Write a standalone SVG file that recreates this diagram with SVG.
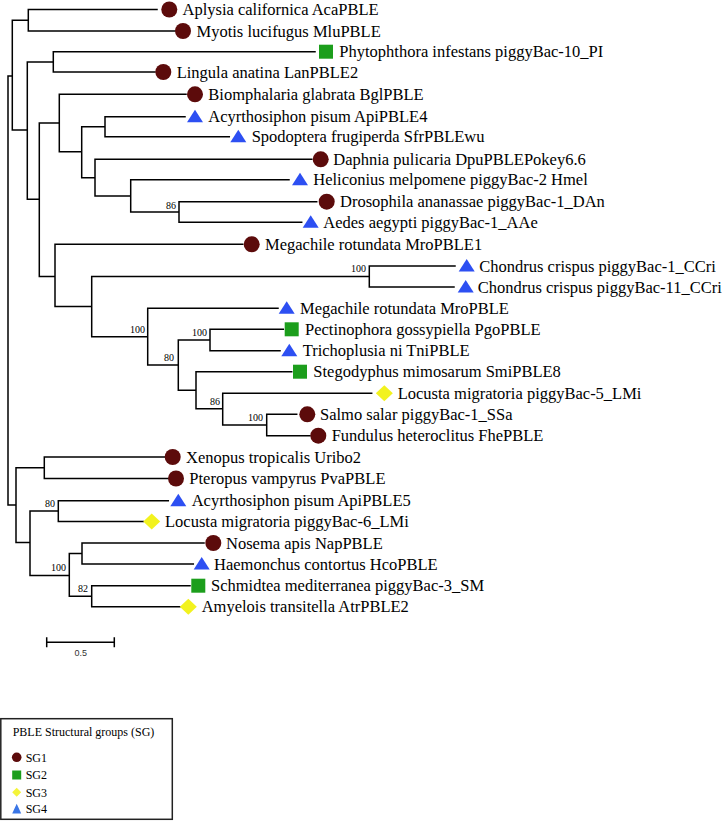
<svg xmlns="http://www.w3.org/2000/svg" width="725" height="824" viewBox="0 0 725 824">
<defs>
<style>
.br{fill:none;stroke:#000;stroke-width:1.5;stroke-linecap:square}
.lbl{font-family:"Liberation Serif","Times New Roman",serif;font-size:16.5px;fill:#000}
.bs{font-family:"Liberation Serif","Times New Roman",serif;font-size:10px;fill:#000;text-anchor:end}
.lg{font-family:"Liberation Serif","Times New Roman",serif;font-size:12px;fill:#000}
.sg1{fill:#5c0b0b}
.sg2{fill:#1c9e1c}
.sg3{fill:#f2f21e}
.sg4{fill:#2d4ff2}
</style>
<circle id="m1" r="8" class="sg1"/>
<rect id="m2" x="-7" y="-7" width="14" height="14" class="sg2"/>
<polygon id="m3" points="0,-8 8.5,0 0,8 -8.5,0" class="sg3"/>
<polygon id="m4" points="0,-7 8,5.5 -8,5.5" class="sg4"/>
</defs>
<rect width="725" height="824" fill="#fff"/>

<g id="connectors">
<path class="br" d="
M8,76V505
M8,76H12.3 M12.3,20.2V130
M12.3,20.2H28.3 M28.3,9.5V31 M28.3,9.5H157 M28.3,31H175
M12.3,130H27.3 M27.3,62V199.3
M27.3,62H53.3 M53.3,51.7V72 M53.3,51.7H315 M53.3,72H155
M27.3,199.3H39.3 M39.3,123V276.5
M39.3,123H59.3 M59.3,94.3V151.7 M59.3,94.3H186
M59.3,151.7H81.7 M81.7,126.7V177.7
M81.7,126.7H105 M105,116.7V136.7 M105,116.7H185 M105,136.7H229.3
M81.7,177.7H95 M95,159.3V196 M95,159.3H311.7
M95,196H130.7 M130.7,179.7V212 M130.7,179.7H289
M130.7,212H179 M179,201.7V222.3 M179,201.7H316.7 M179,222.3H301.7
M39.3,276.5H55 M55,244.3V306.6 M55,244.3H242.7
M55,306.6H91.7 M91.7,276.5V336.7
M91.7,276.5H369.3 M369.3,266V287 M369.3,266H455 M369.3,287H454
M91.7,336.7H147.7 M147.7,308.3V365.1 M147.7,308.3H278
M147.7,365.1H178.3 M178.3,340V390.2
M178.3,340H210 M210,329.3V350.7 M210,329.3H283.3 M210,350.7H280
M178.3,390.2H196 M196,371.7V408.7 M196,371.7H291.7
M196,408.7H222.7 M222.7,393.3V425 M222.7,393.3H371.7
M222.7,425H266.7 M266.7,414.3V435.7 M266.7,414.3H296.7 M266.7,435.7H310
M8,505H16 M16,467.8V542.5
M16,467.8H44.3 M44.3,457V478.5 M44.3,457H164.3 M44.3,478.5H168.3
M16,542.5H30 M30,511V575.5
M30,511H58.3 M58.3,500.7V521.5 M58.3,500.7H168.3 M58.3,521.5H143.3
M30,575.5H69.3 M69.3,553.5V596.2
M69.3,553.5H82 M82,543V564 M82,543H204 M82,564H193.3
M69.3,596.2H91.7 M91.7,585.7V606.7 M91.7,585.7H190 M91.7,606.7H180
"/>
</g>

<g id="support-values">
<text class="bs" x="176" y="209">86</text>
<text class="bs" x="366" y="272">100</text>
<text class="bs" x="145" y="333">100</text>
<text class="bs" x="207" y="336">100</text>
<text class="bs" x="174" y="361">80</text>
<text class="bs" x="220" y="405">86</text>
<text class="bs" x="263" y="421">100</text>
<text class="bs" x="55" y="507">80</text>
<text class="bs" x="66" y="571">100</text>
<text class="bs" x="88" y="592">82</text>
</g>

<g id="leaf-aplysia"><use href="#m1" x="169.3" y="9.5"/><text class="lbl" x="182.5" y="15.2">Aplysia californica AcaPBLE</text></g>
<g id="leaf-myotis"><use href="#m1" x="183" y="31"/><text class="lbl" x="196.5" y="36.7">Myotis lucifugus MluPBLE</text></g>
<g id="leaf-phytophthora"><use href="#m2" x="326" y="51.7"/><text class="lbl" x="339.3" y="57.4">Phytophthora infestans piggyBac-10_PI</text></g>
<g id="leaf-lingula"><use href="#m1" x="163.3" y="72"/><text class="lbl" x="176.7" y="77.7">Lingula anatina LanPBLE2</text></g>
<g id="leaf-biomphalaria"><use href="#m1" x="195" y="94.3"/><text class="lbl" x="208.3" y="100">Biomphalaria glabrata BglPBLE</text></g>
<g id="leaf-acyrthosiphon4"><use href="#m4" x="195" y="116.7"/><text class="lbl" x="208.3" y="122.4">Acyrthosiphon pisum ApiPBLE4</text></g>
<g id="leaf-spodoptera"><use href="#m4" x="238.3" y="136.7"/><text class="lbl" x="251.7" y="142.4">Spodoptera frugiperda SfrPBLEwu</text></g>
<g id="leaf-daphnia"><use href="#m1" x="320.7" y="159.3"/><text class="lbl" x="333.3" y="165">Daphnia pulicaria DpuPBLEPokey6.6</text></g>
<g id="leaf-heliconius"><use href="#m4" x="300" y="179.7"/><text class="lbl" x="313.3" y="185.4">Heliconius melpomene piggyBac-2 Hmel</text></g>
<g id="leaf-drosophila"><use href="#m1" x="326.7" y="201.7"/><text class="lbl" x="340" y="207.4">Drosophila ananassae piggyBac-1_DAn</text></g>
<g id="leaf-aedes"><use href="#m4" x="310.7" y="222.3"/><text class="lbl" x="323.3" y="228">Aedes aegypti piggyBac-1_AAe</text></g>
<g id="leaf-megachile1"><use href="#m1" x="251.7" y="244.3"/><text class="lbl" x="265" y="250">Megachile rotundata MroPBLE1</text></g>
<g id="leaf-chondrus1"><use href="#m4" x="466.7" y="266"/><text class="lbl" x="479.3" y="271.7">Chondrus crispus piggyBac-1_CCri</text></g>
<g id="leaf-chondrus11"><use href="#m4" x="465.7" y="287"/><text class="lbl" x="477.7" y="292.7">Chondrus crispus piggyBac-11_CCri</text></g>
<g id="leaf-megachile"><use href="#m4" x="286.7" y="308.3"/><text class="lbl" x="300" y="314">Megachile rotundata MroPBLE</text></g>
<g id="leaf-pectinophora"><use href="#m2" x="291.7" y="329.3"/><text class="lbl" x="305" y="335">Pectinophora gossypiella PgoPBLE</text></g>
<g id="leaf-trichoplusia"><use href="#m4" x="289.3" y="350.7"/><text class="lbl" x="302.7" y="356.4">Trichoplusia ni TniPBLE</text></g>
<g id="leaf-stegodyphus"><use href="#m2" x="300" y="371.7"/><text class="lbl" x="313.3" y="377.4">Stegodyphus mimosarum SmiPBLE8</text></g>
<g id="leaf-locusta5"><use href="#m3" x="384.3" y="393.3"/><text class="lbl" x="397.7" y="399">Locusta migratoria piggyBac-5_LMi</text></g>
<g id="leaf-salmo"><use href="#m1" x="307.3" y="414.3"/><text class="lbl" x="320" y="420">Salmo salar piggyBac-1_SSa</text></g>
<g id="leaf-fundulus"><use href="#m1" x="318.3" y="435.7"/><text class="lbl" x="331.7" y="441.4">Fundulus heteroclitus FhePBLE</text></g>
<g id="leaf-xenopus"><use href="#m1" x="172.7" y="457"/><text class="lbl" x="186" y="462.7">Xenopus tropicalis Uribo2</text></g>
<g id="leaf-pteropus"><use href="#m1" x="176" y="478.5"/><text class="lbl" x="189.3" y="484.2">Pteropus vampyrus PvaPBLE</text></g>
<g id="leaf-acyrthosiphon5"><use href="#m4" x="178.3" y="500.7"/><text class="lbl" x="191.7" y="506.4">Acyrthosiphon pisum ApiPBLE5</text></g>
<g id="leaf-locusta6"><use href="#m3" x="151.7" y="521.5"/><text class="lbl" x="165" y="527.2">Locusta migratoria piggyBac-6_LMi</text></g>
<g id="leaf-nosema"><use href="#m1" x="213.3" y="543"/><text class="lbl" x="226" y="548.7">Nosema apis NapPBLE</text></g>
<g id="leaf-haemonchus"><use href="#m4" x="201.7" y="564"/><text class="lbl" x="214" y="569.7">Haemonchus contortus HcoPBLE</text></g>
<g id="leaf-schmidtea"><use href="#m2" x="198.3" y="585.7"/><text class="lbl" x="211" y="591.4">Schmidtea mediterranea piggyBac-3_SM</text></g>
<g id="leaf-amyelois"><use href="#m3" x="188.3" y="606.7"/><text class="lbl" x="201.7" y="612.4">Amyelois transitella AtrPBLE2</text></g>

<g id="scale-bar">
<path class="br" d="M46.7,642.3H114.3 M46.7,638V646.5 M114.3,638V646.5" stroke-linecap="butt"/>
<text x="80.7" y="655.5" font-family="Liberation Sans, Arial, sans-serif" font-size="9" fill="#333" text-anchor="middle">0.5</text>
</g>

<g id="legend">
<rect x="0.8" y="718.7" width="171.5" height="100.6" fill="#fff" stroke="#222" stroke-width="1.5"/>
<text class="lg" x="12.7" y="736">PBLE Structural groups (SG)</text>
<circle cx="16.7" cy="757.3" r="4.8" class="sg1"/>
<text class="lg" x="25.7" y="761.5">SG1</text>
<rect x="12.2" y="770.5" width="9" height="9" class="sg2"/>
<text class="lg" x="25.7" y="779.3">SG2</text>
<polygon points="16.7,787.8 21.2,792.3 16.7,796.8 12.2,792.3" fill="#f4f43a"/>
<text class="lg" x="25.7" y="796.5">SG3</text>
<polygon points="16.7,803.7 21.2,813.5 12.2,813.5" fill="#3a76e6"/>
<text class="lg" x="25.7" y="813.3">SG4</text>
</g>
</svg>
